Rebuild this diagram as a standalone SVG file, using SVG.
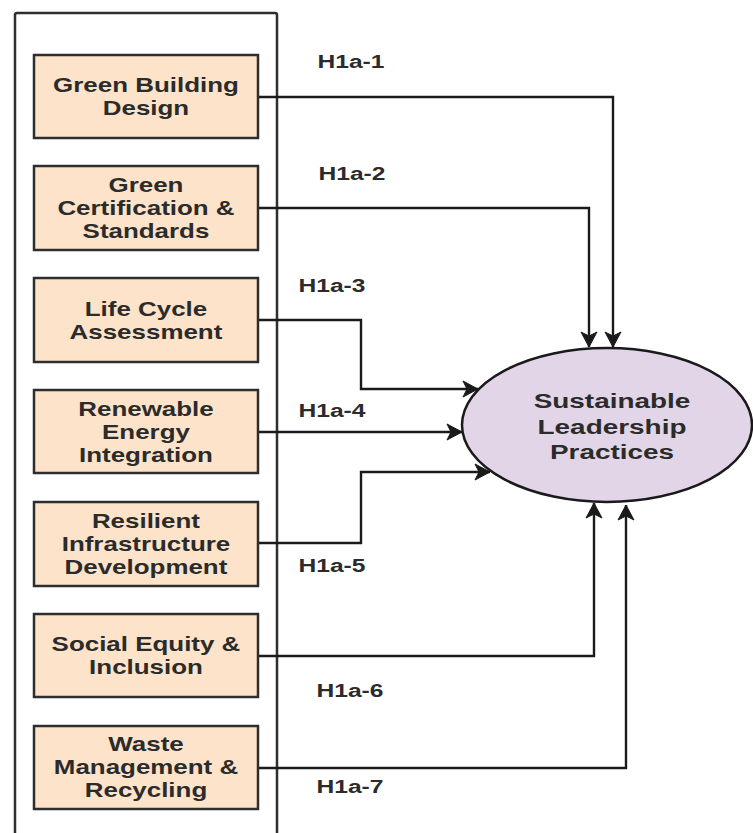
<svg xmlns="http://www.w3.org/2000/svg" width="753" height="833" viewBox="0 0 753 833">
<defs>
<style>
text{font-family:"Liberation Sans",Arial,sans-serif;font-weight:bold;fill:#2b2b2b;text-anchor:middle;transform-box:fill-box;transform-origin:center;transform:scaleX(1.33);}
.bt{font-size:19.5px;}
.et{font-size:21px;}
.lb{font-size:18.5px;}
.box{fill:#fce3c9;stroke:#2e2e2e;stroke-width:2.5;}
.conn{fill:none;stroke:#1a1a1a;stroke-width:2.4;marker-end:url(#arr);}
</style>
<marker id="arr" markerUnits="userSpaceOnUse" markerWidth="18" markerHeight="18" refX="15" refY="8" orient="auto" overflow="visible">
<path d="M0,0 L15,8 L0,16 L4,8 Z" fill="#1a1a1a" stroke="#1a1a1a" stroke-width="1"/>
</marker>
</defs>
<rect width="753" height="833" fill="#ffffff"/>
<g id="container">
<rect x="15" y="13" width="262" height="850" rx="2" fill="none" stroke="#2e2e2e" stroke-width="2.5"/>
</g>
<g id="connectors">
<path class="conn" d="M258,97 H613 V347"/>
<path class="conn" d="M258,208 H589 V347"/>
<path class="conn" d="M258,320 H361 V389 H478"/>
<path class="conn" d="M258,432 H462"/>
<path class="conn" d="M258,543 H361 V472 H490"/>
<path class="conn" d="M258,656 H594 V503"/>
<path class="conn" d="M258,768 H626 V505"/>
</g>
<g id="labels">
<text class="lb" x="351" y="68">H1a-1</text>
<text class="lb" x="352" y="180">H1a-2</text>
<text class="lb" x="332" y="292">H1a-3</text>
<text class="lb" x="332" y="417">H1a-4</text>
<text class="lb" x="332" y="572">H1a-5</text>
<text class="lb" x="350" y="697">H1a-6</text>
<text class="lb" x="350" y="793">H1a-7</text>
</g>
<g id="n1">
<rect class="box" x="34" y="55" width="224" height="83"/>
<text class="bt" x="146" y="92">Green Building</text>
<text class="bt" x="146" y="115">Design</text>
</g>
<g id="n2">
<rect class="box" x="34" y="166" width="224" height="84"/>
<text class="bt" x="146" y="192">Green</text>
<text class="bt" x="146" y="215">Certification &amp;</text>
<text class="bt" x="146" y="238">Standards</text>
</g>
<g id="n3">
<rect class="box" x="34" y="278" width="224" height="84"/>
<text class="bt" x="146" y="316">Life Cycle</text>
<text class="bt" x="146" y="339">Assessment</text>
</g>
<g id="n4">
<rect class="box" x="34" y="390" width="224" height="83"/>
<text class="bt" x="146" y="416">Renewable</text>
<text class="bt" x="146" y="439">Energy</text>
<text class="bt" x="146" y="462">Integration</text>
</g>
<g id="n5">
<rect class="box" x="34" y="502" width="224" height="84"/>
<text class="bt" x="146" y="528">Resilient</text>
<text class="bt" x="146" y="551">Infrastructure</text>
<text class="bt" x="146" y="574">Development</text>
</g>
<g id="n6">
<rect class="box" x="34" y="614" width="224" height="83"/>
<text class="bt" x="146" y="651">Social Equity &amp;</text>
<text class="bt" x="146" y="674">Inclusion</text>
</g>
<g id="n7">
<rect class="box" x="34" y="726" width="224" height="83"/>
<text class="bt" x="146" y="751">Waste</text>
<text class="bt" x="146" y="774">Management &amp;</text>
<text class="bt" x="146" y="797">Recycling</text>
</g>
<g id="target">
<ellipse cx="607" cy="425" rx="145" ry="77" fill="#e1d5e7" stroke="#1a1a1a" stroke-width="2.5"/>
<text class="et" x="612" y="408">Sustainable</text>
<text class="et" x="612" y="434">Leadership</text>
<text class="et" x="612" y="459">Practices</text>
</g>
</svg>
